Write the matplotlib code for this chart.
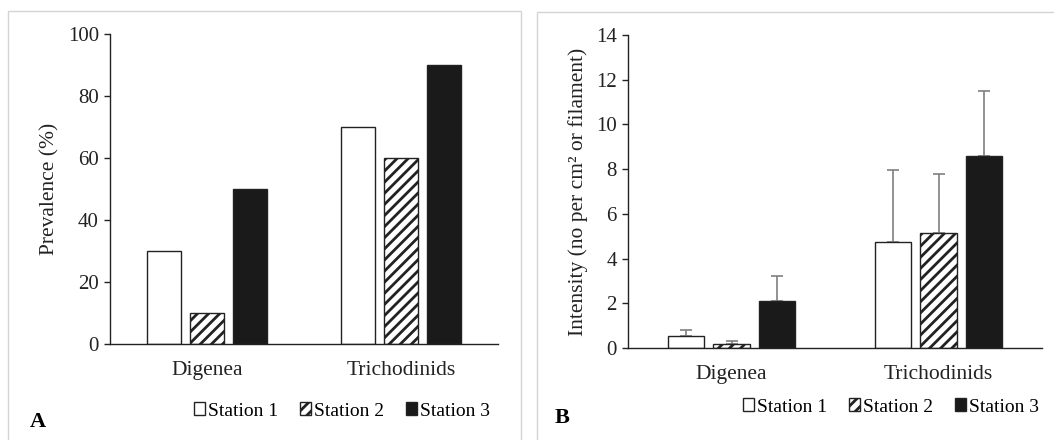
import matplotlib
matplotlib.use('Agg')
import matplotlib.pyplot as plt
import numpy as np
from matplotlib.patches import Rectangle, Patch

plt.rcParams['font.family'] = ['Liberation Serif', 'DejaVu Serif']
plt.rcParams['hatch.linewidth'] = 2.0

categories = ['Digenea', 'Trichodinids']
stations = ['Station 1', 'Station 2', 'Station 3']

# panel A: prevalence (%)
prevalence = [[30, 70], [10, 60], [50, 90]]

# panel B: intensity with upper error bars
intensity = [[0.52, 4.73], [0.19, 5.15], [2.09, 8.61]]
intensity_err = [[0.27, 3.23], [0.11, 2.64], [1.12, 2.90]]

W, H = 1054, 440
fig = plt.figure(figsize=(W / 100, H / 100), dpi=100)

# light grey frames round each panel
fig.patches.append(Rectangle((8 / W, -0.05), 513 / W, 1 - 11 / H + 0.05, transform=fig.transFigure,
                             fill=False, edgecolor='#d4d4d4', lw=1))
fig.patches.append(Rectangle((537 / W, -0.05), 530 / W, 1 - 12 / H + 0.05, transform=fig.transFigure,
                             fill=False, edgecolor='#d4d4d4', lw=1))

faces = ['white', 'white', '#1a1a1a']
hatches = ['', '///', '']
x = np.arange(len(categories))
offsets = [-0.22, 0, 0.22]
bw = 0.175


def style(ax, ylim, step):
    ax.set_xlim(-0.5, 1.5)
    ax.set_ylim(0, ylim)
    ax.set_yticks(np.arange(0, ylim + 0.1, step))
    ax.set_xticks(x)
    ax.set_xticklabels(categories, fontsize=15.5, color='#222222')
    ax.tick_params(axis='x', length=0, pad=12)
    ax.tick_params(axis='y', length=4, width=1, labelsize=15, pad=4, colors='#222222')
    for s in ['top', 'right']:
        ax.spines[s].set_visible(False)
    for s in ['left', 'bottom']:
        ax.spines[s].set_linewidth(1)
        ax.spines[s].set_color('#222222')


def legend(xc, yc):
    handles = [Patch(facecolor=faces[i], edgecolor='#222222', hatch=hatches[i], lw=1) for i in range(3)]
    fig.legend(handles, stations, loc='center', bbox_to_anchor=(xc / W, 1 - yc / H), ncol=3,
               frameon=False, fontsize=14, handlelength=0.6, handleheight=0.6,
               handletextpad=0.15, columnspacing=1.1)


# panel A
axA = fig.add_axes([110 / W, (H - 344) / H, 388 / W, 310 / H])
for i in range(3):
    axA.bar(x + offsets[i], prevalence[i], width=bw, color=faces[i], edgecolor='#222222',
            hatch=hatches[i], lw=1, zorder=2)
style(axA, 100, 20)
axA.set_ylabel('Prevalence (%)', fontsize=15.5, labelpad=6, color='#222222')
legend(342, 411)
fig.text(30 / W, 1 - 422 / H, 'A', fontsize=16, fontweight='bold', va='center')

# panel B
axB = fig.add_axes([628 / W, (H - 348) / H, 414 / W, 313 / H])
for i in range(3):
    axB.bar(x + offsets[i], intensity[i], width=bw, color=faces[i], edgecolor='#222222',
            hatch=hatches[i], lw=1, zorder=2)
    axB.errorbar(x + offsets[i], intensity[i], yerr=[np.zeros(2), intensity_err[i]], fmt='none',
                 ecolor='#7f7f7f', elinewidth=1.2, capsize=4, capthick=1.2, zorder=1)
style(axB, 14, 2)
axB.set_ylabel('Intensity (no per cm² or filament)', fontsize=15.5, labelpad=6, color='#222222')
legend(891, 407)
fig.text(555 / W, 1 - 418 / H, 'B', fontsize=16, fontweight='bold', va='center')

fig.savefig('out.png', dpi=100)
